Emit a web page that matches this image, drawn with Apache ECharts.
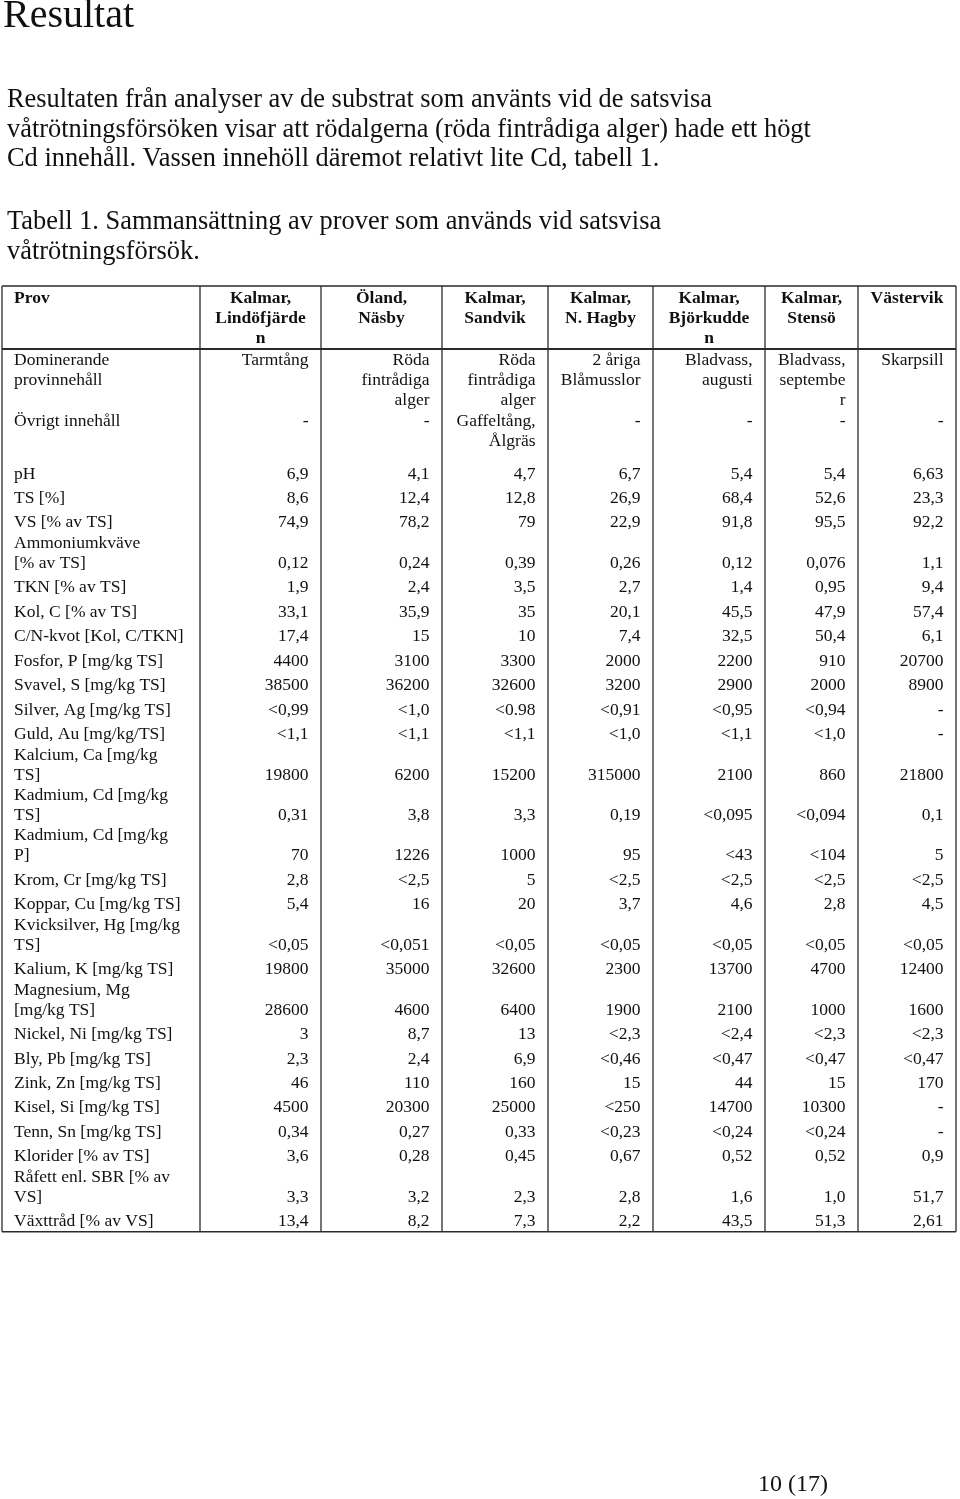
<!DOCTYPE html>
<html><head><meta charset="utf-8">
<script src="https://cdn.jsdelivr.net/npm/echarts@6/dist/echarts.min.js"></script>
<style>html,body{margin:0;padding:0;background:#fff}#c{width:960px;height:1499px}</style>
</head><body><div id="c"></div>
<script>
// ---------- text content ----------
const heading = 'Resultat';
const paragraph = [
  'Resultaten från analyser av de substrat som använts vid de satsvisa',
  'våtrötningsförsöken visar att rödalgerna (röda fintrådiga alger) hade ett högt',
  'Cd innehåll. Vassen innehöll däremot relativt lite Cd, tabell 1.'
];
const caption = [
  'Tabell 1. Sammansättning av prover som används vid satsvisa',
  'våtrötningsförsök.'
];
const pageLabel = '10 (17)';

// ---------- table data ----------
const firstColumnTitle = 'Prov';
const samples = ['Kalmar,\nLindöfjärde\nn', 'Öland,\nNäsby', 'Kalmar,\nSandvik', 'Kalmar,\nN. Hagby',
  'Kalmar,\nBjörkudde\nn', 'Kalmar,\nStensö', 'Västervik'];
const dominantLabel = 'Dominerande\nprovinnehåll';
const dominantContent = ['Tarmtång', 'Röda\nfintrådiga\nalger', 'Röda\nfintrådiga\nalger', '2 åriga\nBlåmusslor',
  'Bladvass,\naugusti', 'Bladvass,\nseptembe\nr', 'Skarpsill'];
const otherLabel = 'Övrigt innehåll';
const otherContent = ['-', '-', 'Gaffeltång,\nÅlgräs', '-', '-', '-', '-'];

const parameters = ['pH', 'TS [%]', 'VS [% av TS]', 'Ammoniumkväve\n[% av TS]', 'TKN [% av TS]',
  'Kol, C [% av TS]', 'C/N-kvot [Kol, C/TKN]', 'Fosfor, P [mg/kg TS]', 'Svavel, S [mg/kg TS]',
  'Silver, Ag [mg/kg TS]', 'Guld, Au [mg/kg/TS]', 'Kalcium, Ca [mg/kg\nTS]', 'Kadmium, Cd [mg/kg\nTS]',
  'Kadmium, Cd [mg/kg\nP]', 'Krom, Cr [mg/kg TS]', 'Koppar, Cu [mg/kg TS]', 'Kvicksilver, Hg [mg/kg\nTS]',
  'Kalium, K [mg/kg TS]', 'Magnesium, Mg\n[mg/kg TS]', 'Nickel, Ni [mg/kg TS]', 'Bly, Pb [mg/kg TS]',
  'Zink, Zn [mg/kg TS]', 'Kisel, Si [mg/kg TS]', 'Tenn, Sn [mg/kg TS]', 'Klorider [% av TS]',
  'Råfett enl. SBR [% av\nVS]', 'Växttråd [% av VS]'];

const lindofjarden = ['6,9','8,6','74,9','0,12','1,9','33,1','17,4','4400','38500','<0,99','<1,1','19800','0,31','70','2,8','5,4','<0,05','19800','28600','3','2,3','46','4500','0,34','3,6','3,3','13,4'];
const nasby = ['4,1','12,4','78,2','0,24','2,4','35,9','15','3100','36200','<1,0','<1,1','6200','3,8','1226','<2,5','16','<0,051','35000','4600','8,7','2,4','110','20300','0,27','0,28','3,2','8,2'];
const sandvik = ['4,7','12,8','79','0,39','3,5','35','10','3300','32600','<0.98','<1,1','15200','3,3','1000','5','20','<0,05','32600','6400','13','6,9','160','25000','0,33','0,45','2,3','7,3'];
const nHagby = ['6,7','26,9','22,9','0,26','2,7','20,1','7,4','2000','3200','<0,91','<1,0','315000','0,19','95','<2,5','3,7','<0,05','2300','1900','<2,3','<0,46','15','<250','<0,23','0,67','2,8','2,2'];
const bjorkudden = ['5,4','68,4','91,8','0,12','1,4','45,5','32,5','2200','2900','<0,95','<1,1','2100','<0,095','<43','<2,5','4,6','<0,05','13700','2100','<2,4','<0,47','44','14700','<0,24','0,52','1,6','43,5'];
const stenso = ['5,4','52,6','95,5','0,076','0,95','47,9','50,4','910','2000','<0,94','<1,0','860','<0,094','<104','<2,5','2,8','<0,05','4700','1000','<2,3','<0,47','15','10300','<0,24','0,52','1,0','51,3'];
const vastervik = ['6,63','23,3','92,2','1,1','9,4','57,4','6,1','20700','8900','-','-','21800','0,1','5','<2,5','4,5','<0,05','12400','1600','<2,3','<0,47','170','-','-','0,9','51,7','2,61'];
const sampleValues = [lindofjarden, nasby, sandvik, nHagby, bjorkudden, stenso, vastervik];

// ---------- layout ----------
const FONT = '"Liberation Serif", "Times New Roman", serif';
const W = 960, H = 1499;
const colEdges = [2, 200, 321, 442, 548, 653, 765, 858, 956];
const tableTop = 286;
const LH = 20;
const RIGHT_PAD = 12.5, LEFT_PAD = 12;
const ROW_STEP = 24.45, EXTRA_LINE = 16;
const TFS = 17.5;

const cells = [];
const nLines = s => s.split('\n').length;
// header row (top-anchored)
const headerTextTop = tableTop + 2;
cells.push({x: colEdges[0] + LEFT_PAD, y: headerTextTop, text: firstColumnTitle, align: 'left', va: 'top', bold: true});
samples.forEach((s, i) => cells.push({x: (colEdges[i + 1] + colEdges[i + 2]) / 2, y: headerTextTop, text: s, align: 'center', va: 'top', bold: true}));
const headerBottom = tableTop + 3 * LH + 3;
// descriptive rows (top-anchored)
const domTop = headerBottom + 1;
cells.push({x: colEdges[0] + LEFT_PAD, y: domTop, text: dominantLabel, align: 'left', va: 'top'});
dominantContent.forEach((s, i) => cells.push({x: colEdges[i + 2] - RIGHT_PAD, y: domTop, text: s, align: 'right', va: 'top'}));
const otherTop = domTop + 3 * LH + 1;
cells.push({x: colEdges[0] + LEFT_PAD, y: otherTop, text: otherLabel, align: 'left', va: 'top'});
otherContent.forEach((s, i) => cells.push({x: colEdges[i + 2] - RIGHT_PAD, y: otherTop, text: s, align: 'right', va: 'top'}));
// measurement rows (anchored at the centre of their last line)
let lastLine = otherTop + 3 * LH + 3 - ROW_STEP;
parameters.forEach((p, r) => {
  lastLine += ROW_STEP + EXTRA_LINE * (nLines(p) - 1);
  cells.push({x: colEdges[0] + LEFT_PAD, y: lastLine + LH / 2, text: p, align: 'left', va: 'bottom'});
  sampleValues.forEach((col, i) => cells.push({x: colEdges[i + 2] - RIGHT_PAD, y: lastLine + LH / 2, text: col[r], align: 'right', va: 'bottom'}));
});
const tableBottom = lastLine + LH / 2;

// borders
const borders = [];
colEdges.forEach(x => borders.push([x, tableTop, x, tableBottom, 1.3]));
borders.push([colEdges[0], tableTop, colEdges[colEdges.length - 1], tableTop, 1.3]);
borders.push([colEdges[0], headerBottom, colEdges[colEdges.length - 1], headerBottom, 2.2]);
borders.push([colEdges[0], tableBottom, colEdges[colEdges.length - 1], tableBottom, 1.6]);

const chart = echarts.init(document.getElementById('c'), null, {renderer: 'canvas'});
chart.setOption({
  animation: false,
  backgroundColor: '#fff',
  grid: {left: 0, right: 0, top: 0, bottom: 0},
  xAxis: {type: 'value', min: 0, max: W, show: false},
  yAxis: {type: 'value', min: 0, max: H, inverse: true, show: false},
  graphic: [
    {type: 'text', left: 3, top: -4, style: {text: heading, font: '40px ' + FONT, fill: '#111'}},
    {type: 'text', left: 7, top: 85.5, style: {text: paragraph.join('\n'), font: '26.4px ' + FONT, lineHeight: 29.5, fill: '#111'}},
    {type: 'text', left: 7, top: 207.5, style: {text: caption.join('\n'), font: '26.4px ' + FONT, lineHeight: 29.5, fill: '#111'}},
    {type: 'text', left: 758, top: 1473, style: {text: pageLabel, font: '24px ' + FONT, fill: '#111'}}
  ],
  series: [
    {
      type: 'custom', silent: true,
      data: borders.map(b => [b[0], b[1], b[2], b[3]]),
      renderItem: (params, api) => {
        const b = borders[params.dataIndex];
        const p1 = api.coord([b[0], b[1]]), p2 = api.coord([b[2], b[3]]);
        return {type: 'line', shape: {x1: p1[0], y1: p1[1], x2: p2[0], y2: p2[1]},
          style: {stroke: '#2a2a2a', lineWidth: b[4]}};
      }
    },
    {
      type: 'custom', silent: true,
      data: cells.map(c => [c.x, c.y]),
      renderItem: (params, api) => {
        const c = cells[params.dataIndex];
        const p = api.coord([c.x, c.y]);
        return {type: 'text', x: p[0], y: p[1],
          style: {text: c.text, fill: '#111', fontSize: TFS, fontFamily: FONT,
            fontWeight: c.bold ? 'bold' : 'normal', align: c.align, verticalAlign: c.va, lineHeight: LH}};
      }
    }
  ]
});
</script></body></html>
